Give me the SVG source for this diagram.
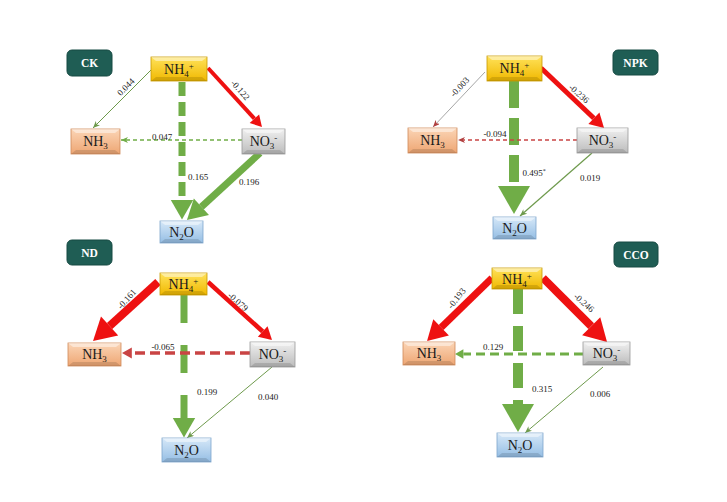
<svg xmlns="http://www.w3.org/2000/svg" width="727" height="502" viewBox="0 0 727 502">
<defs>
<style>
.lbl{fill:#1f5d54;stroke:#174a43;stroke-width:1}
.lt{font-family:"Liberation Serif",serif;font-weight:bold;font-size:11.5px;fill:#ffffff;text-anchor:middle}
.bt{font-family:"Liberation Serif",serif;font-size:14px;fill:#1a1a1a;text-anchor:middle}
.num{font-family:"Liberation Serif",serif;font-size:9px;fill:#1a1a1a;text-anchor:middle}
.hl{fill:#ffffff;opacity:0.45}
.sh{fill:#000000;opacity:0.12}
.c{fill:none;stroke-linecap:butt}
.g{stroke:#70ad47}
.r{stroke:#ee1111}
.dr{stroke:#c94444}
.gy{stroke:#a6a6a6}
.tg{stroke:#6e9a4c}
</style>
<linearGradient id="gNH4" x1="0" y1="0" x2="0" y2="1"><stop offset="0" stop-color="#ffe25a"/><stop offset="1" stop-color="#f0b800"/></linearGradient>
<linearGradient id="gNH3" x1="0" y1="0" x2="0" y2="1"><stop offset="0" stop-color="#fbd5b6"/><stop offset="1" stop-color="#eea673"/></linearGradient>
<linearGradient id="gNO3" x1="0" y1="0" x2="0" y2="1"><stop offset="0" stop-color="#f0f0f0"/><stop offset="1" stop-color="#bcbcbc"/></linearGradient>
<linearGradient id="gN2O" x1="0" y1="0" x2="0" y2="1"><stop offset="0" stop-color="#d6e8f8"/><stop offset="1" stop-color="#95bee4"/></linearGradient>
<marker id="hR" viewBox="0 -1.6 2.8 3.2" refX="0" refY="0" markerWidth="2.8" markerHeight="3.2" orient="auto" overflow="visible"><path d="M0,-1.6 L2.8,0 L0,1.6 z" fill="#ee1111"/></marker>
<marker id="hG" viewBox="0 -1.6 2.8 3.2" refX="0" refY="0" markerWidth="2.8" markerHeight="3.2" orient="auto" overflow="visible"><path d="M0,-1.6 L2.8,0 L0,1.6 z" fill="#70ad47"/></marker>
<marker id="hDR" viewBox="0 -1.6 2.8 3.2" refX="0" refY="0" markerWidth="2.8" markerHeight="3.2" orient="auto" overflow="visible"><path d="M0,-1.6 L2.8,0 L0,1.6 z" fill="#c94444"/></marker>
<marker id="tG" markerUnits="userSpaceOnUse" viewBox="0 -3 7 6" refX="7" refY="0" markerWidth="7" markerHeight="6" orient="auto"><path d="M0,-3 L7,0 L0,3 L2,0 z" fill="#6e9a4c"/></marker>
<marker id="tDR" markerUnits="userSpaceOnUse" viewBox="0 -3 7 6" refX="7" refY="0" markerWidth="7" markerHeight="6" orient="auto"><path d="M0,-3 L7,0 L0,3 L2,0 z" fill="#b04040"/></marker>
<marker id="tDG" markerUnits="userSpaceOnUse" viewBox="0 -3 7 6" refX="7" refY="0" markerWidth="7" markerHeight="6" orient="auto"><path d="M0,-3 L7,0 L0,3 L2,0 z" fill="#70ad47"/></marker>
</defs>
<rect width="727" height="502" fill="#ffffff"/>

<g id="connectors">
<!-- CK -->
<line class="c g" x1="182" y1="82" x2="182" y2="200" stroke-width="7" stroke-dasharray="14 6" marker-end="url(#hG)"/>
<line class="c tg" x1="151" y1="70" x2="93" y2="128" stroke-width="1" marker-end="url(#tG)"/>
<line class="c r" x1="208" y1="68" x2="254.4" y2="118.7" stroke-width="4" marker-end="url(#hR)"/>
<line class="c g" x1="242" y1="140" x2="121" y2="140" stroke-width="1.5" stroke-dasharray="4 3" marker-end="url(#tDG)"/>
<line class="c g" x1="260" y1="153" x2="201.4" y2="206.8" stroke-width="7" marker-end="url(#hG)"/>
<!-- NPK -->
<line class="c g" x1="514" y1="81" x2="514" y2="186" stroke-width="10" stroke-dasharray="27 10" marker-end="url(#hG)"/>
<line class="c gy" x1="485" y1="72" x2="433" y2="127" stroke-width="1" marker-end="url(#tDR)"/>
<line class="c r" x1="541" y1="68" x2="593.9" y2="118.3" stroke-width="5" marker-end="url(#hR)"/>
<line class="c dr" x1="577" y1="140" x2="458" y2="140" stroke-width="1.5" stroke-dasharray="4 3" marker-end="url(#tDR)"/>
<line class="c tg" x1="592" y1="153" x2="520" y2="216" stroke-width="1.2" marker-end="url(#tG)"/>
<!-- ND -->
<line class="c g" x1="184" y1="295" x2="184" y2="418" stroke-width="7" stroke-dasharray="28 22" marker-end="url(#hG)"/>
<line class="c r" x1="158" y1="282" x2="109.6" y2="326" stroke-width="8" marker-end="url(#hR)"/>
<line class="c r" x1="208" y1="282" x2="262.7" y2="331.5" stroke-width="4.5" marker-end="url(#hR)"/>
<line class="c dr" x1="250" y1="353" x2="131.8" y2="353" stroke-width="3.5" stroke-dasharray="10 5" marker-end="url(#hDR)"/>
<line class="c tg" x1="272" y1="367" x2="187" y2="438" stroke-width="1" marker-end="url(#tG)"/>
<!-- CCO -->
<line class="c g" x1="518" y1="289" x2="518" y2="404" stroke-width="10" stroke-dasharray="25 12" marker-end="url(#hG)"/>
<line class="c r" x1="492" y1="278" x2="441.1" y2="327.4" stroke-width="7" marker-end="url(#hR)"/>
<line class="c r" x1="543" y1="278" x2="591.2" y2="326.2" stroke-width="8" marker-end="url(#hR)"/>
<line class="c g" x1="583" y1="354" x2="463.4" y2="354" stroke-width="3" stroke-dasharray="9 5" marker-end="url(#hG)"/>
<line class="c tg" x1="603" y1="367" x2="525" y2="433" stroke-width="1" marker-end="url(#tG)"/>
</g>

<!-- panel labels -->
<g id="lbl-ck"><rect class="lbl" x="67" y="50" width="45" height="26" rx="5"/><text class="lt" x="89.5" y="67">CK</text></g>
<g id="lbl-npk"><rect class="lbl" x="613" y="50" width="45" height="25" rx="5"/><text class="lt" x="635.5" y="66.5">NPK</text></g>
<g id="lbl-nd"><rect class="lbl" x="67" y="240" width="45" height="25" rx="5"/><text class="lt" x="89.5" y="256.5">ND</text></g>
<g id="lbl-cco"><rect class="lbl" x="614" y="242" width="44" height="25" rx="5"/><text class="lt" x="636" y="258.5">CCO</text></g>

<!-- CK nodes -->
<g id="ck-nh4"><rect x="151" y="57" width="56" height="24" fill="url(#gNH4)" stroke="#c99a00" stroke-width="0.8"/><path class="hl" d="M151,57 H207 L202,61 H156 z"/><path class="sh" d="M151,81 H207 L202,77 H156 z"/><text class="bt" x="179" y="74">NH<tspan font-size="9" dy="3">4</tspan><tspan font-size="9" dy="-8">+</tspan></text></g>
<g id="ck-nh3"><rect x="71" y="129" width="49" height="25" fill="url(#gNH3)" stroke="#d08a5a" stroke-width="0.8"/><path class="hl" d="M71,129 H120 L115,133 H76 z"/><path class="sh" d="M71,154 H120 L115,150 H76 z"/><text class="bt" x="95.5" y="146">NH<tspan font-size="9" dy="3">3</tspan></text></g>
<g id="ck-no3"><rect x="242" y="129" width="43" height="25" fill="url(#gNO3)" stroke="#999999" stroke-width="0.8"/><path class="hl" d="M242,129 H285 L280,133 H247 z"/><path class="sh" d="M242,154 H285 L280,150 H247 z"/><text class="bt" x="263.5" y="146">NO<tspan font-size="9" dy="3">3</tspan><tspan font-size="9" dy="-8">-</tspan></text></g>
<g id="ck-n2o"><rect x="160" y="221" width="43" height="22" fill="url(#gN2O)" stroke="#7ea6cc" stroke-width="0.8"/><path class="hl" d="M160,221 H203 L198,225 H165 z"/><path class="sh" d="M160,243 H203 L198,239 H165 z"/><text class="bt" x="181.5" y="237">N<tspan font-size="9" dy="3">2</tspan><tspan dy="-3">O</tspan></text></g>

<!-- NPK nodes -->
<g id="npk-nh4"><rect x="487" y="56" width="55" height="25" fill="url(#gNH4)" stroke="#c99a00" stroke-width="0.8"/><path class="hl" d="M487,56 H542 L537,60 H492 z"/><path class="sh" d="M487,81 H542 L537,77 H492 z"/><text class="bt" x="514.5" y="73">NH<tspan font-size="9" dy="3">4</tspan><tspan font-size="9" dy="-8">+</tspan></text></g>
<g id="npk-nh3"><rect x="408" y="128" width="49" height="25" fill="url(#gNH3)" stroke="#d08a5a" stroke-width="0.8"/><path class="hl" d="M408,128 H457 L452,132 H413 z"/><path class="sh" d="M408,153 H457 L452,149 H413 z"/><text class="bt" x="432.5" y="145">NH<tspan font-size="9" dy="3">3</tspan></text></g>
<g id="npk-no3"><rect x="577" y="128" width="51" height="25" fill="url(#gNO3)" stroke="#999999" stroke-width="0.8"/><path class="hl" d="M577,128 H628 L623,132 H582 z"/><path class="sh" d="M577,153 H628 L623,149 H582 z"/><text class="bt" x="602.5" y="145">NO<tspan font-size="9" dy="3">3</tspan><tspan font-size="9" dy="-8">-</tspan></text></g>
<g id="npk-n2o"><rect x="493" y="217" width="43" height="22" fill="url(#gN2O)" stroke="#7ea6cc" stroke-width="0.8"/><path class="hl" d="M493,217 H536 L531,221 H498 z"/><path class="sh" d="M493,239 H536 L531,235 H498 z"/><text class="bt" x="514.5" y="233">N<tspan font-size="9" dy="3">2</tspan><tspan dy="-3">O</tspan></text></g>

<!-- ND nodes -->
<g id="nd-nh4"><rect x="160" y="273" width="47" height="22" fill="url(#gNH4)" stroke="#c99a00" stroke-width="0.8"/><path class="hl" d="M160,273 H207 L202,277 H165 z"/><path class="sh" d="M160,295 H207 L202,291 H165 z"/><text class="bt" x="183.5" y="289">NH<tspan font-size="9" dy="3">4</tspan><tspan font-size="9" dy="-8">+</tspan></text></g>
<g id="nd-nh3"><rect x="68" y="343" width="53" height="23" fill="url(#gNH3)" stroke="#d08a5a" stroke-width="0.8"/><path class="hl" d="M68,343 H121 L116,347 H73 z"/><path class="sh" d="M68,366 H121 L116,362 H73 z"/><text class="bt" x="94.5" y="359">NH<tspan font-size="9" dy="3">3</tspan></text></g>
<g id="nd-no3"><rect x="250" y="342" width="45" height="25" fill="url(#gNO3)" stroke="#999999" stroke-width="0.8"/><path class="hl" d="M250,342 H295 L290,346 H255 z"/><path class="sh" d="M250,367 H295 L290,363 H255 z"/><text class="bt" x="272.5" y="359">NO<tspan font-size="9" dy="3">3</tspan><tspan font-size="9" dy="-8">-</tspan></text></g>
<g id="nd-n2o"><rect x="162" y="438" width="49" height="24" fill="url(#gN2O)" stroke="#7ea6cc" stroke-width="0.8"/><path class="hl" d="M162,438 H211 L206,442 H167 z"/><path class="sh" d="M162,462 H211 L206,458 H167 z"/><text class="bt" x="186.5" y="455">N<tspan font-size="9" dy="3">2</tspan><tspan dy="-3">O</tspan></text></g>

<!-- CCO nodes -->
<g id="cco-nh4"><rect x="492" y="268" width="50" height="21" fill="url(#gNH4)" stroke="#c99a00" stroke-width="0.8"/><path class="hl" d="M492,268 H542 L537,272 H497 z"/><path class="sh" d="M492,289 H542 L537,285 H497 z"/><text class="bt" x="517" y="284">NH<tspan font-size="9" dy="3">4</tspan><tspan font-size="9" dy="-8">+</tspan></text></g>
<g id="cco-nh3"><rect x="403" y="342" width="52" height="23" fill="url(#gNH3)" stroke="#d08a5a" stroke-width="0.8"/><path class="hl" d="M403,342 H455 L450,346 H408 z"/><path class="sh" d="M403,365 H455 L450,361 H408 z"/><text class="bt" x="429" y="358">NH<tspan font-size="9" dy="3">3</tspan></text></g>
<g id="cco-no3"><rect x="583" y="342" width="47" height="23" fill="url(#gNO3)" stroke="#999999" stroke-width="0.8"/><path class="hl" d="M583,342 H630 L625,346 H588 z"/><path class="sh" d="M583,365 H630 L625,361 H588 z"/><text class="bt" x="606.5" y="358">NO<tspan font-size="9" dy="3">3</tspan><tspan font-size="9" dy="-8">-</tspan></text></g>
<g id="cco-n2o"><rect x="497" y="433" width="46" height="24" fill="url(#gN2O)" stroke="#7ea6cc" stroke-width="0.8"/><path class="hl" d="M497,433 H543 L538,437 H502 z"/><path class="sh" d="M497,457 H543 L538,453 H502 z"/><text class="bt" x="520" y="450">N<tspan font-size="9" dy="3">2</tspan><tspan dy="-3">O</tspan></text></g>

<g id="edge-labels">
<text class="num" transform="translate(128,89) rotate(-45)">0.044</text>
<text class="num" transform="translate(238,92) rotate(49)">-0.122</text>
<text class="num" x="162" y="140">0.047</text>
<text class="num" x="198" y="180">0.165</text>
<text class="num" x="249" y="185">0.196</text>

<text class="num" transform="translate(462,89) rotate(-47)">-0.003</text>
<text class="num" transform="translate(577,96) rotate(41)">-0.236</text>
<text class="num" x="495" y="137">-0.094</text>
<text class="num" x="534" y="176">0.495<tspan font-size="6" dy="-3">*</tspan></text>
<text class="num" x="590" y="181">0.019</text>

<text class="num" transform="translate(129,301) rotate(-48)">-0.161</text>
<text class="num" transform="translate(236,304) rotate(41)">-0.079</text>
<text class="num" x="163" y="350">-0.065</text>
<text class="num" x="207" y="395">0.199</text>
<text class="num" x="268" y="400">0.040</text>

<text class="num" transform="translate(459,300) rotate(-52)">-0.193</text>
<text class="num" transform="translate(582,305) rotate(41)">-0.246</text>
<text class="num" x="493" y="350">0.129</text>
<text class="num" x="542" y="392">0.315</text>
<text class="num" x="600" y="397">0.006</text>
</g>
</svg>
